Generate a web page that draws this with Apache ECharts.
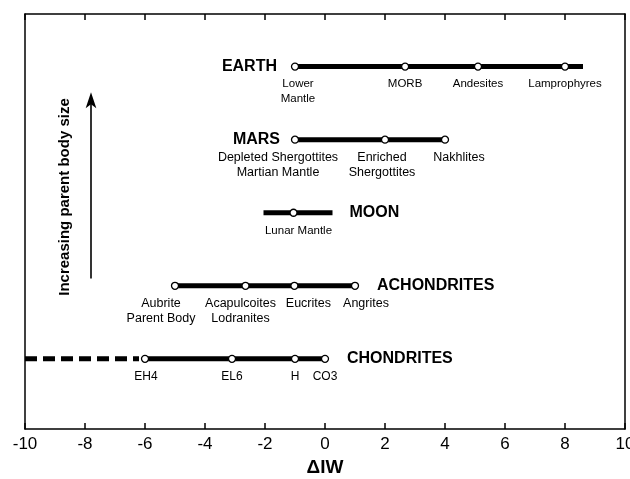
<!DOCTYPE html>
<html>
<head>
<meta charset="utf-8">
<script src="https://cdn.jsdelivr.net/npm/echarts@6/dist/echarts.min.js"></script>
<style>
  html, body { margin: 0; padding: 0; background: #fff; }
  #chart { width: 630px; height: 479px; }
</style>
</head>
<body>
<div id="chart"></div>
<script>
// ---------- data ----------
const xMin = -10, xMax = 10, xStep = 2;
const rowNames  = ['CHONDRITES', 'ACHONDRITES', 'MOON', 'MARS', 'EARTH'];
const rowLevel  = [1, 2, 3, 4, 5];
const rangeLo   = [-6.05, -5, -2.05, -1, -1];
const rangeHi   = [0, 1, 0.25, 4, 8.6];
const chondriteDashLo = -10, chondriteDashHi = -6.2;

const chondriteX      = [-6, -3.1, -1, 0];
const chondriteLabels = ['EH4', 'EL6', 'H', 'CO3'];
const achondriteX      = [-5, -2.65, -1.02, 1];
const achondriteLabels = ['Aubrite\nParent Body', 'Acapulcoites\nLodranites', 'Eucrites', 'Angrites'];
const moonX      = [-1.05];
const moonLabels = ['Lunar Mantle'];
const marsX      = [-1, 2, 4];
const marsLabels = ['Depleted Shergottites\nMartian Mantle', 'Enriched\nShergottites', 'Nakhlites'];
const earthX      = [-1, 2.67, 5.1, 8.0];
const earthLabels = ['Lower\nMantle', 'MORB', 'Andesites', 'Lamprophyres'];

const arrowX = -7.8, arrowLo = 2.1, arrowHi = 4.65;
const yLabelText = 'Increasing parent body size';
const xName = '\u0394IW';

// ---------- styling ----------
const FONT = '"Liberation Sans", Arial, Helvetica, sans-serif';
const rowMarkers = [
  { x: chondriteX, labels: chondriteLabels, offs: [1, 0, 0, 0], fs: 12 },
  { x: achondriteX, labels: achondriteLabels, offs: [-14, -5, 14, 11], fs: 12.5 },
  { x: moonX, labels: moonLabels, offs: [5], fs: 11.5 },
  { x: marsX, labels: marsLabels, offs: [-17, -3, 14], fs: 12.5 },
  { x: earthX, labels: earthLabels, offs: [3, 0, 0, 0], fs: 11.5 }
];
const titleSide = ['right', 'right', 'right', 'left', 'left'];
const titleDist = [22, 22, 17, 15, 18];

const series = [];

rowNames.forEach((name, i) => {
  series.push({
    type: 'line', xAxisIndex: 0, yAxisIndex: 0,
    data: [[rangeLo[i], rowLevel[i]], [rangeHi[i], rowLevel[i]]],
    symbol: 'none', silent: true, z: 2,
    lineStyle: { color: '#000', width: 5, cap: 'butt', opacity: 1 }
  });
});
series.push({
  type: 'line',
  data: [[chondriteDashLo, rowLevel[0]], [chondriteDashHi, rowLevel[0]]],
  symbol: 'none', silent: true, z: 2,
  lineStyle: { color: '#000', width: 5, type: [12, 6], cap: 'butt', opacity: 1 }
});

rowMarkers.forEach((r, i) => {
  series.push({
    type: 'scatter', z: 5,
    data: r.x.map((x, k) => ({
      value: [x, rowLevel[i]],
      label: { offset: [r.offs[k], 0] }
    })),
    symbol: 'circle', symbolSize: 7,
    itemStyle: { color: '#fff', borderColor: '#000', borderWidth: 1.3, opacity: 1 },
    label: {
      show: true, position: 'bottom', distance: 6, opacity: 1,
      formatter: (p) => r.labels[p.dataIndex],
      color: '#000', fontFamily: FONT, fontSize: r.fs, lineHeight: 15, align: 'center'
    }
  });
});

rowNames.forEach((name, i) => {
  const side = titleSide[i];
  series.push({
    type: 'scatter', z: 4, silent: true,
    data: [[side === 'right' ? rangeHi[i] : rangeLo[i], rowLevel[i]]],
    symbolSize: 0,
    itemStyle: { opacity: 1 },
    label: {
      show: true, position: side, distance: titleDist[i], opacity: 1,
      formatter: name, color: '#000', fontFamily: FONT, fontSize: 16, fontWeight: 'bold'
    }
  });
});

series.push({
  type: 'line', data: [[arrowX, arrowLo], [arrowX, arrowHi - 0.1]],
  symbol: 'none', silent: true,
  lineStyle: { color: '#000', width: 1.6, opacity: 1 }
});
series.push({
  type: 'scatter', silent: true, data: [[arrowX, arrowHi]],
  symbol: 'arrow', symbolSize: [8, 16],
  itemStyle: { color: '#000', opacity: 1 }
});

const axisLineStyle = { color: '#000', width: 1.5 };
const chart = echarts.init(document.getElementById('chart'), null, { renderer: 'canvas' });
chart.setOption({
  animation: false,
  backgroundColor: '#fff',
  grid: { left: 25, right: 5, top: 14, bottom: 50, containLabel: false, outerBoundsMode: 'none' },
  xAxis: [
    {
      type: 'value', min: xMin, max: xMax, interval: xStep, position: 'bottom',
      name: xName, nameLocation: 'middle', nameGap: 29,
      nameTextStyle: { color: '#000', fontFamily: FONT, fontSize: 19, fontWeight: 'bold' },
      axisLine: { show: true, onZero: false, lineStyle: axisLineStyle },
      axisTick: { show: true, inside: true, length: 6, lineStyle: axisLineStyle },
      axisLabel: { show: true, color: '#000', fontFamily: FONT, fontSize: 17, margin: 7, hideOverlap: false },
      splitLine: { show: false }
    },
    {
      type: 'value', min: xMin, max: xMax, interval: xStep, position: 'top',
      axisLine: { show: true, onZero: false, lineStyle: axisLineStyle },
      axisTick: { show: true, inside: true, length: 6, lineStyle: axisLineStyle },
      axisLabel: { show: false },
      splitLine: { show: false }
    }
  ],
  yAxis: [
    {
      type: 'value', min: 0.04, max: 5.72, position: 'left',
      axisLine: { show: true, onZero: false, lineStyle: axisLineStyle },
      axisTick: { show: false }, axisLabel: { show: false }, splitLine: { show: false }
    },
    {
      type: 'value', min: 0.04, max: 5.72, position: 'right',
      axisLine: { show: true, onZero: false, lineStyle: axisLineStyle },
      axisTick: { show: false }, axisLabel: { show: false }, splitLine: { show: false }
    }
  ],
  graphic: [{
    type: 'text', x: 65, y: 197, rotation: Math.PI / 2,
    style: {
      text: yLabelText, x: 0, y: 0, align: 'center', verticalAlign: 'middle',
      fill: '#000', font: 'bold 15px ' + FONT
    }
  }],
  series: series
});
</script>
</body>
</html>
